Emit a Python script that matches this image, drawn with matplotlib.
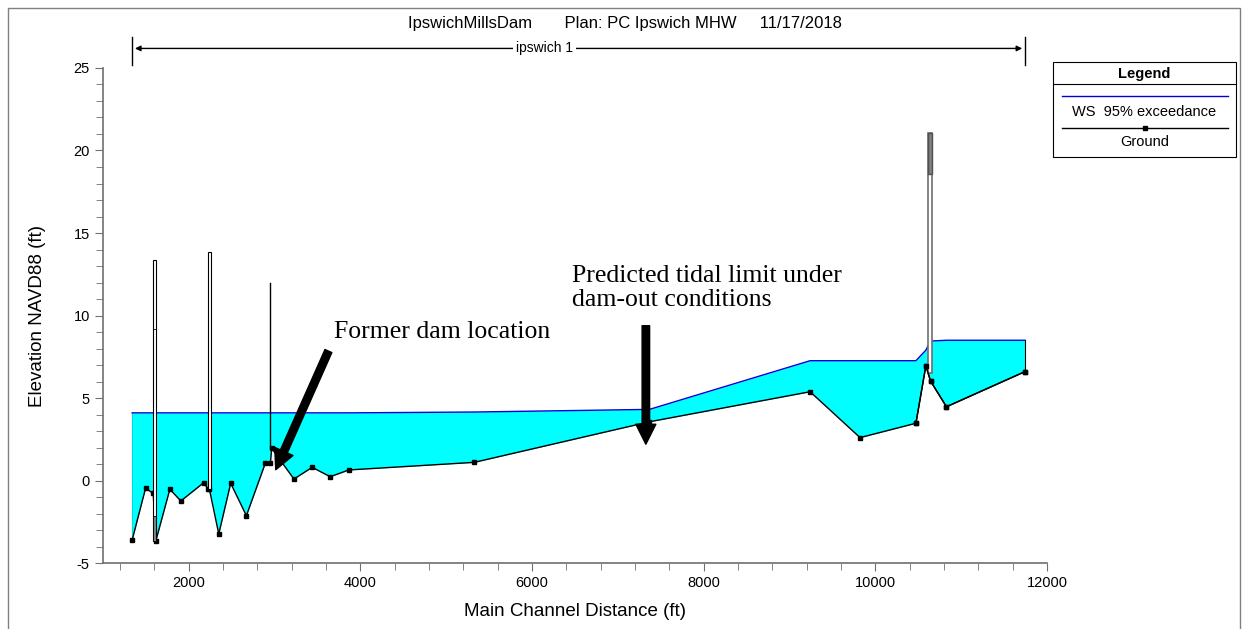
import numpy as np
import matplotlib
matplotlib.use("Agg")
import matplotlib.pyplot as plt
from matplotlib.patches import Rectangle
from matplotlib.lines import Line2D
from matplotlib.ticker import MultipleLocator
import matplotlib.transforms as mtransforms

plt.rcParams["axes.unicode_minus"] = False

# ground profile (main channel distance ft, elevation ft)
station = [1340, 1496, 1585, 1616, 1779, 1907, 2174, 2225, 2240, 2349, 2488,
           2671, 2891, 2950, 2966, 3225, 3438, 3647, 3865, 5326, 7368, 9240,
           9822, 10473, 10589, 10643, 10829, 11744]
ground = [-3.6, -0.47, -0.78, -3.65, -0.53, -1.24, -0.13, -0.53, -0.53, -3.24, -0.17,
          -2.13, 1.04, 1.04, 1.95, 0.09, 0.8, 0.23, 0.64, 1.1, 3.56, 5.38,
          2.6, 3.47, 6.96, 6.03, 4.47, 6.6]
ws = [4.1, 4.1, 4.1, 4.1, 4.1, 4.1, 4.1, 4.1, 4.1, 4.1, 4.1,
      4.1, 4.1, 4.1, 4.1, 4.1, 4.1, 4.1, 4.1, 4.15, 4.31, 7.26,
      7.26, 7.26, 7.9, 8.45, 8.5, 8.5]

# bridges / structures: (left, right, top, bottom)
bridges = [(1578, 1623, 13.36, -3.65), (2224, 2262, 13.87, -0.53)]
weir_x, weir_top, weir_bot = 2945, 11.95, 1.95
br4 = (10610, 10655, 21.04, 18.6, 6.5)

reach_name = "ipswich 1"
reach_start, reach_end = 1340, 11744

fig = plt.figure(figsize=(12.44, 6.29), dpi=100)
ax = fig.add_axes([0.0828, 0.1049, 0.7588, 0.787])

ax.fill_between(station, ground, ws, color="#00FFFF", lw=0, zorder=1)
ax.plot(station, ws, color="#0000DD", lw=1.0, zorder=3)
ax.plot([station[0], station[0]], [ground[0], ws[0]], color="#00DDDD", lw=0.8, zorder=2)
ax.plot([station[-1], station[-1]], [ground[-1], ws[-1]], color="black", lw=0.8, zorder=2)
ax.plot(station, ground, color="black", lw=1.0, marker="s", ms=3.5, zorder=4)

for l, r, t, b in bridges:
    ax.add_patch(Rectangle((l, b), r - l, t - b, facecolor="white", edgecolor="black",
                           lw=0.8, zorder=5))
ax.add_patch(Rectangle((1578, -3.65), 45, 1.5, facecolor="#808080", edgecolor="black",
                       lw=0.6, zorder=5))
ax.plot([1578, 1623], [9.16, 9.16], color="black", lw=0.6, zorder=6)
ax.plot([weir_x, weir_x], [weir_bot, weir_top], color="black", lw=1.0, zorder=5)
l, r, t, m, b = br4
ax.add_patch(Rectangle((l, b), r - l, t - b, facecolor="white", edgecolor="#707070",
                       lw=1.2, zorder=5))
ax.add_patch(Rectangle((l, m), r - l, t - m, facecolor="#808080", edgecolor="#505050",
                       lw=1.0, zorder=6))
# redraw ground over lower part of structure
ax.plot(station[-5:], ground[-5:], color="black", lw=1.0, marker="s", ms=3.5, zorder=7)

ax.set_xlim(1000, 12000)
ax.set_ylim(-5, 25)
ax.xaxis.set_major_locator(MultipleLocator(2000))
ax.xaxis.set_minor_locator(MultipleLocator(400))
ax.yaxis.set_major_locator(MultipleLocator(5))
ax.yaxis.set_minor_locator(MultipleLocator(1))
for s in ["top", "right"]:
    ax.spines[s].set_visible(False)
for s in ["left", "bottom"]:
    ax.spines[s].set_color("#707070")
    ax.spines[s].set_linewidth(1.2)
ax.tick_params(which="both", direction="out", colors="#707070", labelcolor="black",
               labelsize=10.5)
ax.tick_params(which="major", length=6)
ax.tick_params(which="minor", length=5)
for lab in ax.get_xticklabels() + ax.get_yticklabels():
    lab.set_family("Liberation Sans")
ax.set_xlabel("Main Channel Distance (ft)", fontsize=13.5, family="Liberation Sans", labelpad=9)
ax.set_ylabel("Elevation NAVD88 (ft)", fontsize=13.5, family="Liberation Sans", labelpad=20)

# title
fig.text(0.502, 0.962, "IpswichMillsDam       Plan: PC Ipswich MHW     11/17/2018",
         ha="center", va="center", fontsize=12, family="Liberation Sans")

# reach arrow
trans = mtransforms.blended_transform_factory(ax.transData, fig.transFigure)
ax.annotate("", xy=(reach_start, 0.923), xytext=(reach_end, 0.923), xycoords=trans,
            textcoords=trans, arrowprops=dict(arrowstyle="<|-|>", color="black", lw=1,
                                              mutation_scale=8), annotation_clip=False)
for xx in (reach_start, reach_end):
    ax.plot([xx, xx], [0.897, 0.941], transform=trans, color="black", lw=1, clip_on=False)
ax.text((reach_start + reach_end) / 2 - 400, 0.923, reach_name, transform=trans,
        ha="center", va="center", fontsize=10, family="Liberation Sans",
        bbox=dict(facecolor="white", edgecolor="none", pad=2))

# annotations
arrow_style = "simple,head_width=1.2,head_length=1.2,tail_width=0.45"
ax.annotate("", xy=(3000, 0.5), xytext=(3640, 8.0),
            arrowprops=dict(arrowstyle=arrow_style, color="black", mutation_scale=12), zorder=8)
ax.text(3690, 8.35, "Former dam location", fontsize=18.5, family="Liberation Serif",
        ha="left", va="bottom")
ax.annotate("", xy=(7326, 2.03), xytext=(7326, 9.55),
            arrowprops=dict(arrowstyle=arrow_style, color="black", mutation_scale=12), zorder=8)
ax.text(6465, 10.3, "Predicted tidal limit under\ndam-out conditions", fontsize=18.5,
        family="Liberation Serif", ha="left", va="bottom", linespacing=1.08)

# legend box
lx0, lx1 = 1053 / 1244, 1236 / 1244
ly_top, ly_bot = 1 - 62 / 629, 1 - 157 / 629
fig.patches.append(Rectangle((lx0, ly_bot), lx1 - lx0, ly_top - ly_bot, transform=fig.transFigure,
                             facecolor="white", edgecolor="black", lw=0.8))
fig.lines.append(Line2D([lx0, lx1], [1 - 84 / 629] * 2, transform=fig.transFigure,
                        color="black", lw=0.8))
fig.text((lx0 + lx1) / 2, 1 - 74 / 629, "Legend", ha="center", va="center",
         fontsize=10.5, weight="bold", family="Liberation Sans")
fig.lines.append(Line2D([1062 / 1244, 1228 / 1244], [1 - 96 / 629] * 2, transform=fig.transFigure,
                        color="#0000DD", lw=1))
fig.text((lx0 + lx1) / 2, 1 - 112 / 629, "WS  95% exceedance", ha="center", va="center",
         fontsize=10.5, family="Liberation Sans")
fig.lines.append(Line2D([1062 / 1244, 1228 / 1244], [1 - 128 / 629] * 2, transform=fig.transFigure,
                        color="black", lw=1))
fig.lines.append(Line2D([1145 / 1244], [1 - 128 / 629], transform=fig.transFigure,
                        color="black", marker="s", ms=3.5))
fig.text((lx0 + lx1) / 2, 1 - 142 / 629, "Ground", ha="center", va="center",
         fontsize=10.5, family="Liberation Sans")

# outer frame
fig.patches.append(Rectangle((8 / 1244, -0.01), 1232 / 1244, 1 - 8 / 629 + 0.01,
                             transform=fig.transFigure, facecolor="none",
                             edgecolor="#808080", lw=1))

fig.savefig("out.png", dpi=100)
